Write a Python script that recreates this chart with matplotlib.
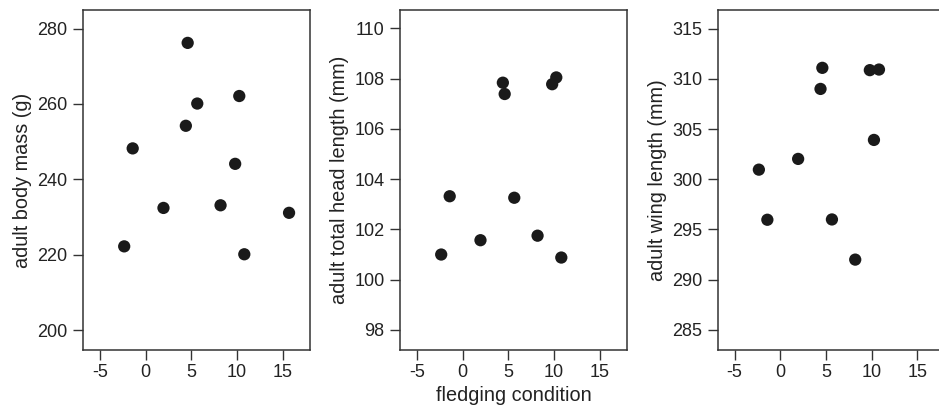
import numpy as np
import matplotlib
matplotlib.use('Agg')
import matplotlib.pyplot as plt

# fledging condition of each bird (shared x for all panels)
fledging = [-2.35, -1.42, 1.95, 4.4, 4.6, 5.65, 8.2, 9.8, 10.25, 10.8, 15.7]

# adult traits, nan where the bird is missing from a panel
body_mass = [222.2, 248.2, 232.4, 254.2, 276.2, 260.1, 233.1, 244.1, 262.1, 220.1, 231.1]
head_length = [101.0, 103.32, 101.57, 107.84, 107.39, 103.26, 101.75, 107.78, 108.05, 100.88, np.nan]
wing_length = [300.96, 295.97, 302.03, 309.0, 311.1, 296.0, 292.0, 310.87, 303.92, 310.93, np.nan]

xticks = [-5, 0, 5, 10, 15]

plt.rcParams['font.family'] = ['Liberation Sans', 'DejaVu Sans']
plt.rcParams['axes.unicode_minus'] = False

txt = '#222222'
spine = '#333333'

fig = plt.figure(figsize=(9.39, 4.09), dpi=100)

panels = [
    (0.0884, body_mass, 'adult body mass (g)', [200, 220, 240, 260, 280], (194.7, 284.9)),
    (0.4260, head_length, 'adult total head length (mm)', [98, 100, 102, 104, 106, 108, 110], (97.2, 110.73)),
    (0.7643, wing_length, 'adult wing length (mm)', [285, 290, 295, 300, 305, 310, 315], (283.0, 316.85)),
]

for i, (left, yvals, ylab, yticks, ylim) in enumerate(panels):
    ax = fig.add_axes([left, 0.1443, 0.2418, 0.831])
    ax.scatter(fledging, yvals, s=78, color='#1a1a1a', edgecolors='none', zorder=3)
    ax.set_xlim(-6.86, 18.0)
    ax.set_ylim(*ylim)
    ax.set_xticks(xticks)
    ax.set_yticks(yticks)
    ax.tick_params(direction='out', length=7, width=1, color=spine,
                   labelsize=13, labelcolor=txt)
    ax.tick_params(axis='x', pad=3)
    ax.tick_params(axis='y', pad=4)
    for s in ax.spines.values():
        s.set_color(spine)
        s.set_linewidth(1.1)
    ax.set_ylabel(ylab, fontsize=14.3, color=txt, labelpad=4)
    if i == 1:
        ax.set_xlabel('fledging condition', fontsize=14.3, color=txt, labelpad=4)

fig.savefig('out.png', dpi=100)
